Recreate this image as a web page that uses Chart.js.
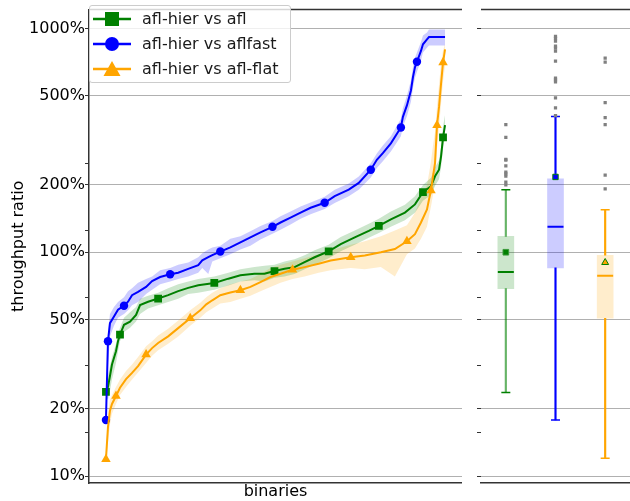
<!DOCTYPE html>
<html>
<head>
<meta charset="utf-8">
<script src="https://cdn.jsdelivr.net/npm/chart.js@4.4.0/dist/chart.umd.min.js"></script>
<style>
  html, body { margin: 0; padding: 0; background: #fff; }
  body { width: 630px; height: 501px; position: relative; overflow: hidden; font-family: "DejaVu Sans", sans-serif; }
  #left { position: absolute; left: 0; top: 0; width: 462px; height: 501px; }
  #right { position: absolute; left: 470px; top: 0; width: 160px; height: 501px; }
  #legend { position: absolute; left: 89px; top: 5px; width: 202px; height: 78px; background: rgba(255, 255, 255, 0.8); border: 1px solid #cccccc; border-radius: 3px; box-sizing: border-box; }
  .row { position: absolute; left: 3px; height: 25px; display: flex; align-items: center; font-size: 16px; color: #1a1a1a; white-space: nowrap; }
  .row svg { margin-right: 11px; }
</style>
</head>
<body>
<div id="left"><canvas id="ratio-chart"></canvas></div>
<div id="right"><canvas id="box-chart"></canvas></div>
<div id="legend">
  <div class="row" style="top:0px">
    <svg width="38" height="20"><line x1="0" y1="10" x2="38" y2="10" stroke="#008000" stroke-width="2.5"/><rect x="12" y="3" width="14" height="14" fill="#008000"/></svg>afl-hier vs afl
  </div>
  <div class="row" style="top:25px">
    <svg width="38" height="20"><line x1="0" y1="10" x2="38" y2="10" stroke="#0000ff" stroke-width="2.5"/><circle cx="19" cy="10" r="7" fill="#0000ff"/></svg>afl-hier vs aflfast
  </div>
  <div class="row" style="top:50px">
    <svg width="38" height="20"><line x1="0" y1="10" x2="38" y2="10" stroke="#ffa500" stroke-width="2.5"/><polygon points="19,2 27.5,17 10.5,17" fill="#ffa500"/></svg>afl-hier vs afl-flat
  </div>
</div>
<script>
"use strict";

// sorted per-binary throughput ratios (percent), x = binary rank
const greenRank = [0, 1, 2, 3, 5, 6, 7, 9, 12, 15, 17, 21, 26, 31, 36, 41, 46, 54, 61, 67, 74, 79, 84, 89, 94, 99, 104, 111, 117, 124, 131, 136, 142, 149, 154, 158, 162, 164, 166, 167, 168, 169];
const greenRatio = [23.8, 25.0, 28.0, 31.5, 36.1, 40.0, 42.8, 47.4, 49.0, 52.5, 58.1, 60.1, 62.1, 64.3, 67.0, 69.3, 71.2, 72.9, 76.2, 78.9, 80.2, 80.2, 82.4, 84.3, 85.8, 90.3, 95.0, 101.0, 108.8, 116.5, 124.7, 131.3, 140.4, 150.3, 163.6, 185.6, 197.3, 218.5, 233.7, 267.7, 326.2, 369.6];
const greenLow = [22.5, 22, 24, 27, 32, 36, 40, 44, 46, 49, 53, 56, 58, 60, 62, 65, 66, 68, 71, 74, 75, 74, 77, 78, 80, 84, 88, 94, 101, 108, 116, 122, 130, 139, 150, 170, 180, 198, 212, 240, 290, 330];
const greenHigh = [25, 28, 31, 34, 39, 43, 46, 51, 54, 57, 62, 64, 66, 69, 72, 74, 76, 78, 81, 84, 86, 87, 88, 91, 93, 97, 102, 108, 117, 125, 134, 141, 152, 163, 178, 200, 215, 240, 258, 295, 365, 410];
const greenMarks = [0, 7, 26, 54, 84, 111, 136, 158, 168];

const blueRank = [0, 1, 2, 4, 6, 9, 11, 13, 16, 20, 23, 27, 32, 36, 41, 46, 48, 51, 53, 57, 62, 67, 72, 77, 83, 87, 92, 97, 102, 109, 114, 121, 126, 132, 135, 138, 142, 147, 148, 150, 152, 153, 154, 155, 157, 158, 160, 161, 169];
const blueRatio = [17.8, 40.0, 48.2, 51.6, 55.4, 57.7, 60.1, 64.3, 66.5, 70.0, 74.4, 77.5, 79.7, 81.0, 84.3, 87.6, 92, 95, 97, 100.7, 105.2, 110.7, 116.5, 122.6, 129.9, 135.8, 142.9, 150.3, 158.1, 166.4, 178.2, 190.5, 204, 233.7, 258.8, 277, 306.7, 361, 402.7, 453, 528, 605.3, 670, 709.7, 793.6, 849.5, 893.6, 915.3, 915.3];
const blueLow = [17, 30, 42, 47, 51, 53, 55, 58, 60, 65, 68, 72, 74, 76, 78, 81, 85, 80, 91, 94, 98, 103, 107, 114, 121, 126, 133, 141, 148, 156, 166, 178, 190, 216, 238, 255, 282, 330, 365, 405, 470, 540, 600, 640, 720, 780, 820, 840, 840];
const blueHigh = [19, 44, 53, 57, 60, 63, 67, 69, 73, 76, 78, 83, 85, 88, 90, 95, 99, 103, 105, 107, 115, 118, 124, 131, 138, 145, 152, 160, 167, 177, 190, 203, 218, 250, 276, 300, 330, 395, 440, 500, 585, 670, 740, 780, 870, 930, 960, 990, 990];
const blueMarks = [0, 1, 9, 32, 57, 83, 109, 132, 147, 155];

const orangeRank = [0, 1, 2, 3, 5, 7, 10, 13, 16, 20, 23, 26, 31, 36, 42, 47, 50, 53, 57, 62, 67, 72, 77, 82, 87, 93, 99, 106, 112, 122, 129, 137, 144, 150, 154, 157, 160, 161, 162, 163, 164, 165, 166, 167, 168, 169];
const orangeRatio = [11.9, 16.5, 19.6, 21.0, 22.8, 24.8, 27.1, 28.9, 31.0, 34.9, 37.3, 39.3, 42.1, 45.8, 50.7, 55, 58.5, 61, 64.3, 66.1, 67.7, 70.0, 73.6, 77.5, 80.2, 83.5, 85.8, 88.8, 91.9, 95.0, 96.7, 100, 103.4, 111.9, 120.5, 135.8, 155.5, 172.1, 188.7, 218.5, 250, 369.6, 445.9, 565.3, 705, 807];
const orangeLow = [11.5, 14, 17, 19, 21, 23, 25, 27, 29, 32, 34.5, 36.5, 39, 42, 47, 51, 54, 56, 59, 60, 62, 64, 67, 70, 73, 76, 78, 81, 83, 85, 84, 86, 78, 98, 104, 115, 130, 145, 160, 180, 205, 290, 360, 460, 580, 680];
const orangeHigh = [12.5, 19, 22, 23, 25, 27, 29.5, 31.5, 34, 38, 40, 42.5, 45.5, 49.5, 55, 59.5, 63, 66, 69, 72, 74, 76, 80, 85, 88, 91, 94, 98, 102, 108, 112, 118, 125, 132, 150, 175, 200, 225, 255, 300, 345, 450, 560, 700, 800, 850];
const orangeMarks = [0, 5, 20, 42, 67, 93, 122, 150, 162, 165, 168];

// box plot summary per comparison (percent)
const boxPos = [1, 2, 3];
const whiskerLow = [23.6, 17.8, 12.0];
const boxQ1 = [68.8, 85.2, 50.7];
const boxMedian = [81.6, 130, 78.5];
const boxQ3 = [117.7, 213, 97];
const whiskerHigh = [190, 404, 155];
const boxMean = [100, 217, 90];
const greenOutliers = [372, 326, 260, 258, 243, 228, 224, 219, 206, 200];
const blueOutliers = [922, 904, 877, 833, 816, 792, 714, 600, 589, 577, 490, 442, 408];
const orangeOutliers = [737, 707, 466, 400, 372, 221, 192];

const percentTicks = [10, 20, 50, 100, 200, 500, 1000];
const minorTicks = [15.625, 31.25, 62.5, 125, 250];

const GREEN = "#008000";
const BLUE = "#0000ff";
const ORANGE = "#ffa500";
const FONT = { family: "DejaVu Sans", size: 16 };

const topSpine = {
  id: "topSpine",
  afterDraw(chart) {
    const { ctx, chartArea } = chart;
    ctx.save();
    ctx.strokeStyle = "#333";
    ctx.lineWidth = 1.5;
    ctx.beginPath();
    ctx.moveTo(chartArea.left, chartArea.top);
    ctx.lineTo(chartArea.right, chartArea.top);
    ctx.stroke();
    ctx.restore();
  },
};

function points(xs, ys) {
  return xs.map((x, i) => ({ x, y: ys[i] }));
}

function markerRadius(ranks, marks, size) {
  return ranks.map((r) => (marks.includes(r) ? size : 0));
}

function yAxis(withLabels) {
  return {
    type: "logarithmic",
    min: 9.31,
    max: 1214,
    afterBuildTicks: (scale) => {
      scale.ticks = percentTicks.concat(minorTicks).sort((a, b) => a - b).map((v) => ({ value: v }));
    },
    afterFit: (scale) => {
      scale.width = withLabels ? 89 : 11;
    },
    ticks: {
      autoSkip: false,
      padding: 0,
      color: "#000",
      font: FONT,
      callback: (value) => (withLabels && percentTicks.includes(value) ? `${value}%` : ""),
    },
    grid: {
      color: (c) => (c.tick && percentTicks.includes(c.tick.value) ? "#b0b0b0" : "rgba(0,0,0,0)"),
      tickColor: "#333",
      tickLength: 4,
      lineWidth: 1,
    },
    border: { display: withLabels, color: "#333", width: 1.5 },
    title: {
      display: withLabels,
      text: "throughput ratio",
      color: "#000",
      font: FONT,
      padding: { top: 9, bottom: 0 },
    },
  };
}

function bandPair(ranks, low, high, color) {
  return [
    { data: points(ranks, high), fill: "+1", backgroundColor: color, borderWidth: 0, borderColor: "rgba(0,0,0,0)", pointRadius: 0, order: 10 },
    { data: points(ranks, low), fill: false, borderWidth: 0, borderColor: "rgba(0,0,0,0)", pointRadius: 0, order: 10 },
  ];
}

function seriesLine(ranks, values, marks, color, style, size, order) {
  return {
    data: points(ranks, values),
    fill: false,
    borderColor: color,
    borderWidth: 2,
    pointStyle: style,
    pointRadius: markerRadius(ranks, marks, size),
    pointBackgroundColor: color,
    pointBorderWidth: 0,
    order,
  };
}

new Chart(document.getElementById("ratio-chart"), {
  type: "line",
  data: {
    datasets: [
      ...bandPair(blueRank, blueLow, blueHigh, "rgba(0,0,255,0.2)"),
      ...bandPair(greenRank, greenLow, greenHigh, "rgba(0,128,0,0.2)"),
      ...bandPair(orangeRank, orangeLow, orangeHigh, "rgba(255,165,0,0.2)"),
      seriesLine(greenRank, greenRatio, greenMarks, GREEN, "rect", 5.5, 3),
      seriesLine(blueRank, blueRatio, blueMarks, BLUE, "circle", 4.2, 2),
      seriesLine(orangeRank, orangeRatio, orangeMarks, ORANGE, "triangle", 5.5, 1),
    ],
  },
  options: {
    responsive: true,
    maintainAspectRatio: false,
    animation: false,
    events: [],
    layout: { autoPadding: false, padding: { top: 5, right: 0, bottom: 0, left: 0 } },
    plugins: { legend: { display: false }, tooltip: { enabled: false } },
    elements: { line: { tension: 0 } },
    scales: {
      x: {
        type: "linear",
        min: -8.45,
        max: 177.45,
        afterFit: (scale) => {
          scale.height = 18;
        },
        ticks: { display: false },
        grid: { display: false },
        border: { color: "#333", width: 1.5 },
        title: { display: true, text: "binaries", color: "#000", font: FONT, padding: { top: 0, bottom: 0 } },
      },
      y: yAxis(true),
    },
  },
  plugins: [topSpine],
});

const boxFill = ["rgba(0,128,0,0.2)", "rgba(0,0,255,0.2)", "rgba(255,165,0,0.2)"];
const whiskerColor = ["rgba(0,128,0,0.6)", BLUE, ORANGE];
const lineColor = [GREEN, BLUE, ORANGE];

function boxBars(lows, highs, colors, thickness, order) {
  return {
    type: "bar",
    data: boxPos.map((x, i) => ({ x, y: [lows[i], highs[i]] })),
    backgroundColor: colors,
    borderWidth: 0,
    barThickness: thickness,
    grouped: false,
    order,
  };
}

const outlierPoints = [
  ...greenOutliers.map((y) => ({ x: 1, y })),
  ...blueOutliers.map((y) => ({ x: 2, y })),
  ...orangeOutliers.map((y) => ({ x: 3, y })),
];

new Chart(document.getElementById("box-chart"), {
  type: "scatter",
  data: {
    datasets: [
      boxBars(boxQ1, boxQ3, boxFill, 16, 6),
      boxBars(boxQ3, whiskerHigh, whiskerColor, 1.5, 5),
      boxBars(whiskerLow, boxQ1, whiskerColor, 1.5, 5),
      {
        data: [...points(boxPos, whiskerLow), ...points(boxPos, whiskerHigh)],
        pointStyle: "line",
        pointRadius: 4.5,
        pointBorderWidth: 1.5,
        pointBorderColor: [...lineColor, ...lineColor],
        order: 4,
      },
      {
        data: points(boxPos, boxMedian),
        pointStyle: "line",
        pointRadius: 8,
        pointBorderWidth: 2,
        pointBorderColor: lineColor,
        order: 3,
      },
      {
        data: outlierPoints,
        pointStyle: "rect",
        pointRadius: 2.3,
        pointBackgroundColor: "#808080",
        pointBorderWidth: 0,
        order: 2,
      },
      {
        data: points(boxPos, boxMean),
        pointStyle: ["rect", "rect", "triangle"],
        pointRadius: [4, 3.8, 4],
        pointBackgroundColor: [GREEN, BLUE, ORANGE],
        pointBorderColor: ["#3a9a3a", GREEN, GREEN],
        pointBorderWidth: 1,
        order: 1,
      },
    ],
  },
  options: {
    responsive: true,
    maintainAspectRatio: false,
    animation: false,
    events: [],
    layout: { autoPadding: false, padding: { top: 5, right: 0, bottom: 0, left: 0 } },
    plugins: { legend: { display: false }, tooltip: { enabled: false } },
    scales: {
      x: {
        type: "linear",
        min: 0.5,
        max: 3.5,
        offset: false,
        afterFit: (scale) => {
          scale.height = 18;
        },
        ticks: { display: false },
        grid: { display: false, offset: false },
        border: { color: "#333", width: 1.5 },
      },
      y: yAxis(false),
    },
  },
  plugins: [topSpine],
});
</script>
</body>
</html>
